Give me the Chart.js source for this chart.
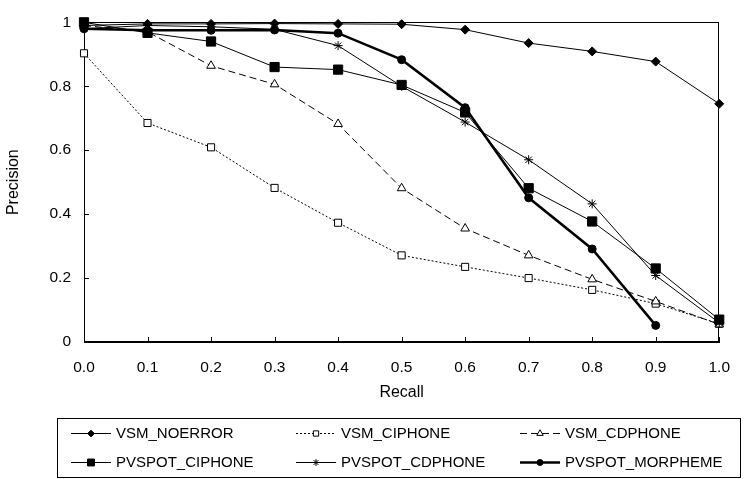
<!DOCTYPE html>
<html>
<head>
<meta charset="utf-8">
<script src="https://cdn.jsdelivr.net/npm/chart.js"></script>
<style>
html,body{margin:0;padding:0;background:#fff;}
#wrap{width:746px;height:479px;}
</style>
</head>
<body>
<div id="wrap"><canvas id="c" width="746" height="479"></canvas></div>
<script>
// ---- data ----
const recall = [0.0, 0.1, 0.2, 0.3, 0.4, 0.5, 0.6, 0.7, 0.8, 0.9, 1.0];
const seriesNames = ['VSM_NOERROR', 'VSM_CIPHONE', 'VSM_CDPHONE', 'PVSPOT_CIPHONE', 'PVSPOT_CDPHONE', 'PVSPOT_MORPHEME'];
const vsmNoerror     = [0.990, 0.995, 0.995, 0.996, 0.995, 0.994, 0.977, 0.935, 0.909, 0.877, 0.745];
const vsmCiphone     = [0.903, 0.685, 0.609, 0.482, 0.373, 0.271, 0.235, 0.200, 0.163, 0.120, 0.057];
const vsmCdphone     = [0.990, 0.970, 0.864, 0.806, 0.682, 0.481, 0.355, 0.271, 0.196, 0.127, 0.055];
const pvspotCiphone  = [1.000, 0.967, 0.940, 0.860, 0.852, 0.804, 0.718, 0.481, 0.377, 0.230, 0.070];
const pvspotCdphone  = [0.980, 0.990, 0.986, 0.978, 0.927, 0.800, 0.688, 0.570, 0.432, 0.208, 0.060];
const pvspotMorpheme = [0.980, 0.975, 0.975, 0.976, 0.966, 0.883, 0.733, 0.451, 0.291, 0.052, null];
const xTickLabels = ['0.0', '0.1', '0.2', '0.3', '0.4', '0.5', '0.6', '0.7', '0.8', '0.9', '1.0'];
const yTickLabels = ['0', '0.2', '0.4', '0.6', '0.8', '1'];
const xTitle = 'Recall';
const yTitle = 'Precision';

const FONT = "'Liberation Sans', Arial, Helvetica, sans-serif";

function pts(vals) {
  return recall.map((r, i) => ({x: r, y: vals[i]}));
}

const styles = [
  {borderWidth: 1, borderDash: [], pointStyle: 'rectRot', pointRadius: 4.5, fill: '#000'},
  {borderWidth: 1, borderDash: [2, 2], pointStyle: 'rect', pointRadius: 5, fill: '#fff'},
  {borderWidth: 1, borderDash: [7, 4], pointStyle: 'triangle', pointRadius: 5, fill: '#fff'},
  {borderWidth: 1, borderDash: [], pointStyle: 'rect', pointRadius: 6.5, fill: '#000'},
  {borderWidth: 1, borderDash: [], pointStyle: 'star', pointRadius: 4.5, fill: '#000'},
  {borderWidth: 2.5, borderDash: [], pointStyle: 'circle', pointRadius: 4, fill: '#000'}
];
const seriesValues = [vsmNoerror, vsmCiphone, vsmCdphone, pvspotCiphone, pvspotCdphone, pvspotMorpheme];

const datasets = seriesNames.map((name, i) => ({
  label: name,
  data: pts(seriesValues[i]),
  borderColor: '#000',
  backgroundColor: styles[i].fill,
  borderWidth: styles[i].borderWidth,
  borderDash: styles[i].borderDash,
  pointStyle: styles[i].pointStyle,
  pointRadius: styles[i].pointRadius,
  pointHoverRadius: styles[i].pointRadius,
  pointBackgroundColor: styles[i].fill,
  pointBorderColor: '#000',
  pointBorderWidth: 1,
  tension: 0,
  spanGaps: false,
  clip: false,
  order: seriesNames.length - i
}));

// frame + inward tick marks
const framePlugin = {
  id: 'frame',
  beforeDatasetsDraw(chart) {
    const {ctx, chartArea: a, scales} = chart;
    ctx.save();
    ctx.strokeStyle = '#000';
    ctx.lineWidth = 1;
    ctx.setLineDash([]);
    ctx.strokeRect(Math.round(a.left) + 0.5, Math.round(a.top) + 0.5,
                   Math.round(a.right - a.left) - 1, Math.round(a.bottom - a.top) - 1);
    ctx.beginPath();
    scales.x.ticks.forEach(t => {
      const px = Math.round(scales.x.getPixelForValue(t.value)) + 0.5;
      ctx.moveTo(px, a.bottom);
      ctx.lineTo(px, a.bottom - 5);
    });
    scales.y.ticks.forEach(t => {
      const py = Math.round(scales.y.getPixelForValue(t.value)) + 0.5;
      ctx.moveTo(a.left, py);
      ctx.lineTo(a.left + 5, py);
    });
    ctx.stroke();
    ctx.restore();
  }
};

// boxed legend laid out in a 3-column grid
const gridLegendPlugin = {
  id: 'gridLegend',
  afterDraw(chart) {
    const {ctx} = chart;
    const boxL = 57, boxR = chart.width - 6, boxT = 418, boxB = 477;
    ctx.save();
    ctx.strokeStyle = '#000';
    ctx.lineWidth = 1;
    ctx.setLineDash([]);
    ctx.strokeRect(boxL + 0.5, boxT + 0.5, boxR - boxL, boxB - boxT);
    const colX = [boxL + 14, boxL + 239, boxL + 463];
    const rowY = [boxT + 15, boxT + 44];
    const lineLen = 40;
    ctx.font = '15px ' + FONT;
    ctx.textBaseline = 'middle';
    ctx.textAlign = 'left';
    chart.data.datasets.forEach((ds, i) => {
      const x = colX[i % 3], y = rowY[Math.floor(i / 3)];
      ctx.strokeStyle = '#000';
      ctx.lineWidth = ds.borderWidth;
      ctx.setLineDash(ds.borderDash || []);
      ctx.beginPath();
      ctx.moveTo(x, y + 0.5);
      ctx.lineTo(x + lineLen, y + 0.5);
      ctx.stroke();
      ctx.setLineDash([]);
      ctx.lineWidth = 1;
      ctx.fillStyle = ds.pointBackgroundColor;
      Chart.helpers.drawPoint(ctx, {pointStyle: ds.pointStyle, radius: ds.pointRadius * 0.75, borderWidth: 1, rotation: 0}, x + lineLen / 2, y + 0.5);
      ctx.fillStyle = '#000';
      ctx.fillText(ds.label, x + lineLen + 5, y + 1);
    });
    ctx.restore();
  }
};

new Chart(document.getElementById('c'), {
  type: 'line',
  data: {datasets},
  options: {
    responsive: false,
    animation: false,
    devicePixelRatio: 1,
    layout: {padding: {top: 12, right: 10, bottom: 77, left: 0}},
    plugins: {legend: {display: false}, tooltip: {enabled: false}},
    scales: {
      x: {
        type: 'linear', min: 0, max: 1,
        grid: {display: false, drawTicks: false},
        border: {display: true, color: '#000', width: 1},
        ticks: {
          stepSize: 0.1, color: '#000', padding: 16,
          font: {family: FONT, size: 15.5},
          autoSkip: false, maxRotation: 0,
          callback: (v, i) => xTickLabels[i]
        },
        title: {display: true, text: xTitle, color: '#000', font: {family: FONT, size: 16}, padding: {top: 0, bottom: 0}},
        afterFit: s => { s.height = 60; }
      },
      y: {
        type: 'linear', min: 0, max: 1,
        grid: {display: false, drawTicks: false},
        border: {display: true, color: '#000', width: 1},
        ticks: {
          stepSize: 0.2, color: '#000', padding: 13,
          font: {family: FONT, size: 15.5},
          callback: (v, i) => yTickLabels[i]
        },
        title: {display: true, text: yTitle, color: '#000', font: {family: FONT, size: 16}, padding: {top: 4, bottom: 0}},
        afterFit: s => { s.width = 84; }
      }
    }
  },
  plugins: [framePlugin, gridLegendPlugin]
});
</script>
</body>
</html>
